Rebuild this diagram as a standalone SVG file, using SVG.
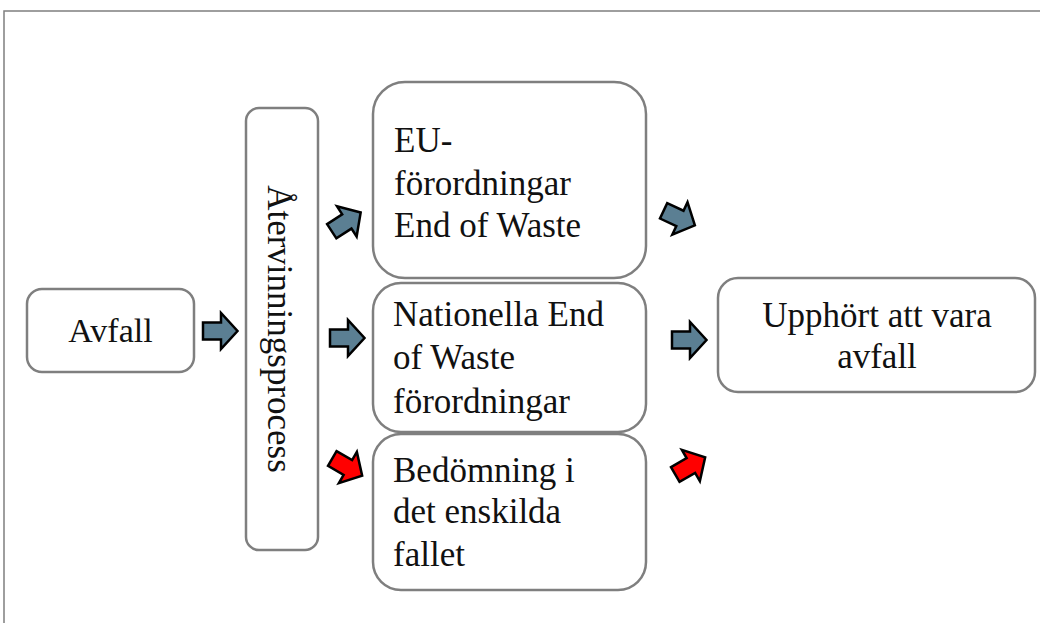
<svg xmlns="http://www.w3.org/2000/svg" width="1040" height="623" viewBox="0 0 1040 623">
<defs>
<style>
.box{fill:#fff;stroke:#7f7f7f;stroke-width:2.5}
.t{font-family:"Liberation Serif","Times New Roman",serif;font-size:35px;fill:#111}
.ab{fill:#5b7f93;stroke:#000;stroke-width:2.5;stroke-linejoin:miter}
.ar{fill:#ff0000;stroke:#000;stroke-width:2.5;stroke-linejoin:miter}
</style>
<path id="arr" d="M-17,-8.5 H1 V-18 L17.5,0 L1,18 V8.5 H-17 Z"/>
</defs>
<rect width="1040" height="623" fill="#fff"/>
<rect x="4" y="11" width="1050" height="630" fill="none" stroke="#7f7f7f" stroke-width="1.5"/>

<g id="avfall">
<rect class="box" x="27" y="289" width="167" height="83" rx="15"/>
<text class="t" x="110.5" y="342" text-anchor="middle" style="font-size:34px">Avfall</text>
</g>

<g id="atervinning">
<rect class="box" x="246" y="108" width="72" height="442" rx="13"/>
<text class="t" transform="translate(268,329) rotate(90)" text-anchor="middle">Återvinningsprocess</text>
</g>

<g id="eu">
<rect class="box" x="373" y="82" width="273" height="196" rx="32"/>
<text class="t" x="394" y="152">EU-</text>
<text class="t" x="394" y="195">förordningar</text>
<text class="t" x="394" y="237">End of Waste</text>
</g>

<g id="nationella">
<rect class="box" x="373" y="283" width="273" height="149" rx="28"/>
<text class="t" x="393" y="326">Nationella End</text>
<text class="t" x="393" y="369">of Waste</text>
<text class="t" x="393" y="413">förordningar</text>
</g>

<g id="bedomning">
<rect class="box" x="373" y="434" width="273" height="156" rx="28"/>
<text class="t" x="393" y="482">Bedömning i</text>
<text class="t" x="393" y="523">det enskilda</text>
<text class="t" x="393" y="566">fallet</text>
</g>

<g id="upphort">
<rect class="box" x="718" y="278" width="317" height="114" rx="20"/>
<text class="t" x="877" y="327" text-anchor="middle">Upphört att vara</text>
<text class="t" x="877" y="368" text-anchor="middle">avfall</text>
</g>

<g id="connectors">
<use href="#arr" class="ab" transform="translate(220,331)"/>
<use href="#arr" class="ab" transform="translate(346,222) rotate(-33)"/>
<use href="#arr" class="ab" transform="translate(347,338)"/>
<use href="#arr" class="ar" transform="translate(347,467) rotate(30)"/>
<use href="#arr" class="ab" transform="translate(679,218) rotate(25)"/>
<use href="#arr" class="ab" transform="translate(689,340)"/>
<use href="#arr" class="ar" transform="translate(690,466) rotate(-30)"/>
</g>
</svg>
